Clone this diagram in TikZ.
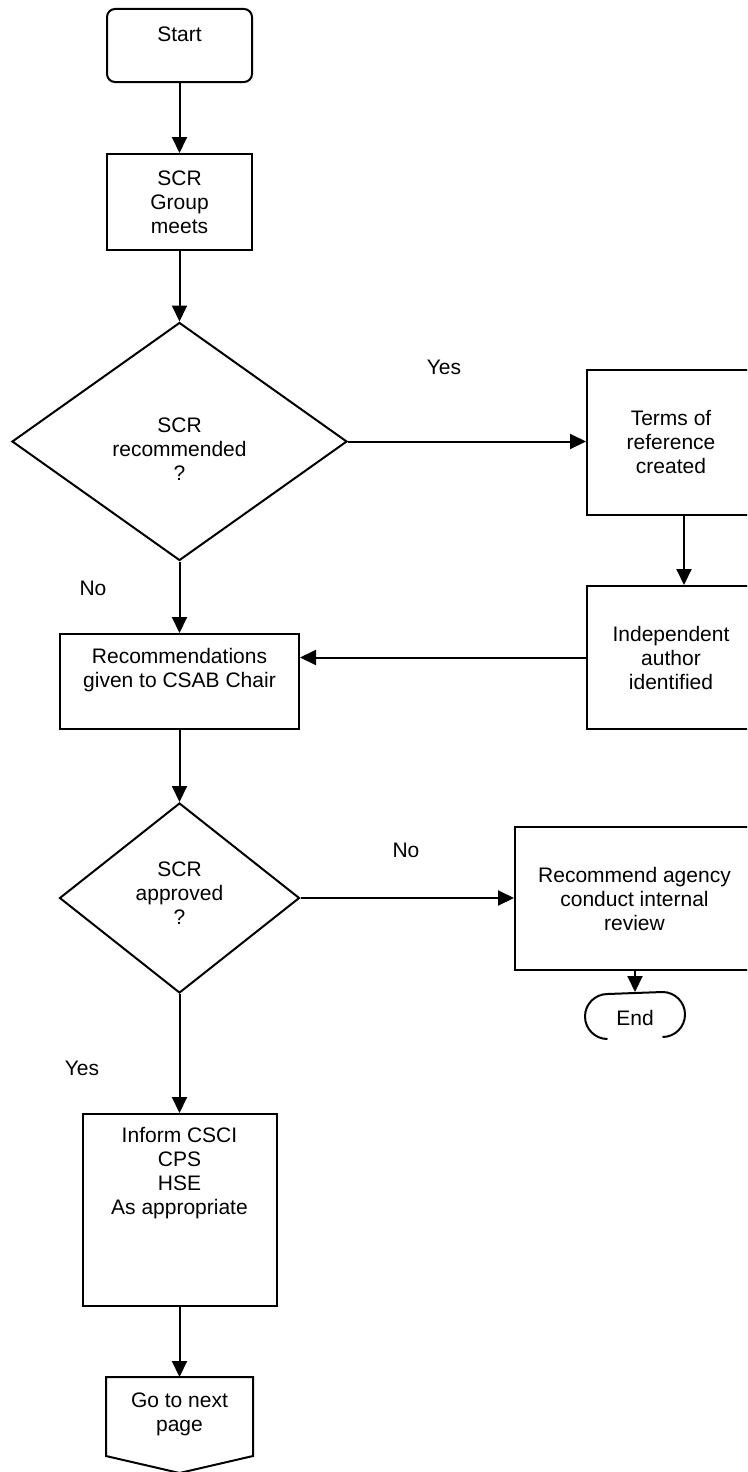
\documentclass[tikz,border=0pt]{standalone}
\usepackage{fontspec}
\setmainfont{Liberation Sans}
\usetikzlibrary{shapes.geometric,arrows.meta}
\begin{document}
\begin{tikzpicture}[x=1pt,y=-1pt,
  line width=2pt,
  every node/.style={font=\fontsize{21}{24}\selectfont},
  box/.style={draw, rectangle, inner sep=0pt},
  txt/.style={align=center, inner sep=0pt},
  dec/.style={draw, diamond, inner sep=0pt},
  flow/.style={-{Triangle[length=16pt,width=15pt]}},
  lbl/.style={inner sep=0pt}]
\useasboundingbox (0,0) rectangle (747,1472);
\clip (0,0) rectangle (747,1472);

% shapes
\node[box, rounded corners=8pt, minimum width=145pt, minimum height=73pt] (start) at (179.5,45.5) {};
\node[txt] (tstart) at (179.5,34) {Start};

\node[box, minimum width=145pt, minimum height=96pt] (meets) at (179.5,202) {};
\node[txt] (tmeets) at (179.5,202) {SCR\\Group\\meets};

\node[dec, minimum width=335pt, minimum height=238pt] (d1) at (179.5,441.5) {};
\node[txt] (td1) at (179.5,449) {SCR\\recommended\\?};

\node[box, minimum width=194pt, minimum height=145pt] (terms) at (684,442.5) {};
\node[txt] (tterms) at (671,442) {Terms of\\reference\\created};

\node[box, minimum width=194pt, minimum height=143pt] (indep) at (684,657.5) {};
\node[txt] (tindep) at (671,658) {Independent\\author\\identified};

\node[box, minimum width=239pt, minimum height=95pt] (recs) at (179.5,681.5) {};
\node[txt] (trecs) at (179.5,670) {Recommendations\\given to CSAB Chair};

\node[dec, minimum width=240pt, minimum height=190pt] (d2) at (179.5,898) {};
\node[txt] (td2) at (179.5,893) {SCR\\approved\\?};

\node[box, minimum width=240pt, minimum height=143pt] (agency) at (635,898.5) {};
\node[txt] (tagency) at (634.5,899) {Recommend agency\\conduct internal\\review};

\node[inner sep=0pt, minimum width=98pt, minimum height=45pt] (end) at (635,1015.5) {};
\draw ([xshift=22.5pt]end.south west) arc[start angle=270, end angle=90, radius=22.5pt]
  -- ([xshift=-22.5pt]end.north east) arc[start angle=90, end angle=-90, radius=22.5pt];
\node[txt] (tend) at (635,1018) {End};

\node[box, minimum width=194pt, minimum height=192pt] (inform) at (179.5,1210) {};
\node[txt] (tinform) at (179.5,1173.5) {Inform CSCI\\CPS\\HSE\\As appropriate};

\node[inner sep=0pt, minimum width=145pt, minimum height=77pt] (go) at (179.5,1416.5) {};
\draw (go.north west) -- (go.north east) -- (go.south east) -- ([yshift=-17pt]go.south) -- (go.south west) -- cycle;
\node[txt] (tgo) at (179.5,1414) {Go to next\\page};

% connectors
\draw[flow] (start.south) -- (meets.north);
\draw[flow] (meets.south) -- (d1.north);
\draw[flow] (d1.east) -- (d1.east -| terms.west);
\draw[flow] (terms.south) -- (indep.north);
\draw[flow] (indep.west) -- (indep.west -| recs.east);
\draw[flow] (d1.south) -- (recs.north);
\draw[flow] (recs.south) -- (d2.north);
\draw[flow] (d2.east) -- (d2.east -| agency.west);
\draw[flow] (agency.south) -- (end.north);
\draw[flow] (d2.south) -- (inform.north);
\draw[flow] (inform.south) -- (go.north);

% labels
\node[lbl] (yes1) at (444,367) {Yes};
\node[lbl] (no1) at (93,588) {No};
\node[lbl] (no2) at (406,850) {No};
\node[lbl] (yes2) at (82,1068) {Yes};
\end{tikzpicture}
\end{document}
